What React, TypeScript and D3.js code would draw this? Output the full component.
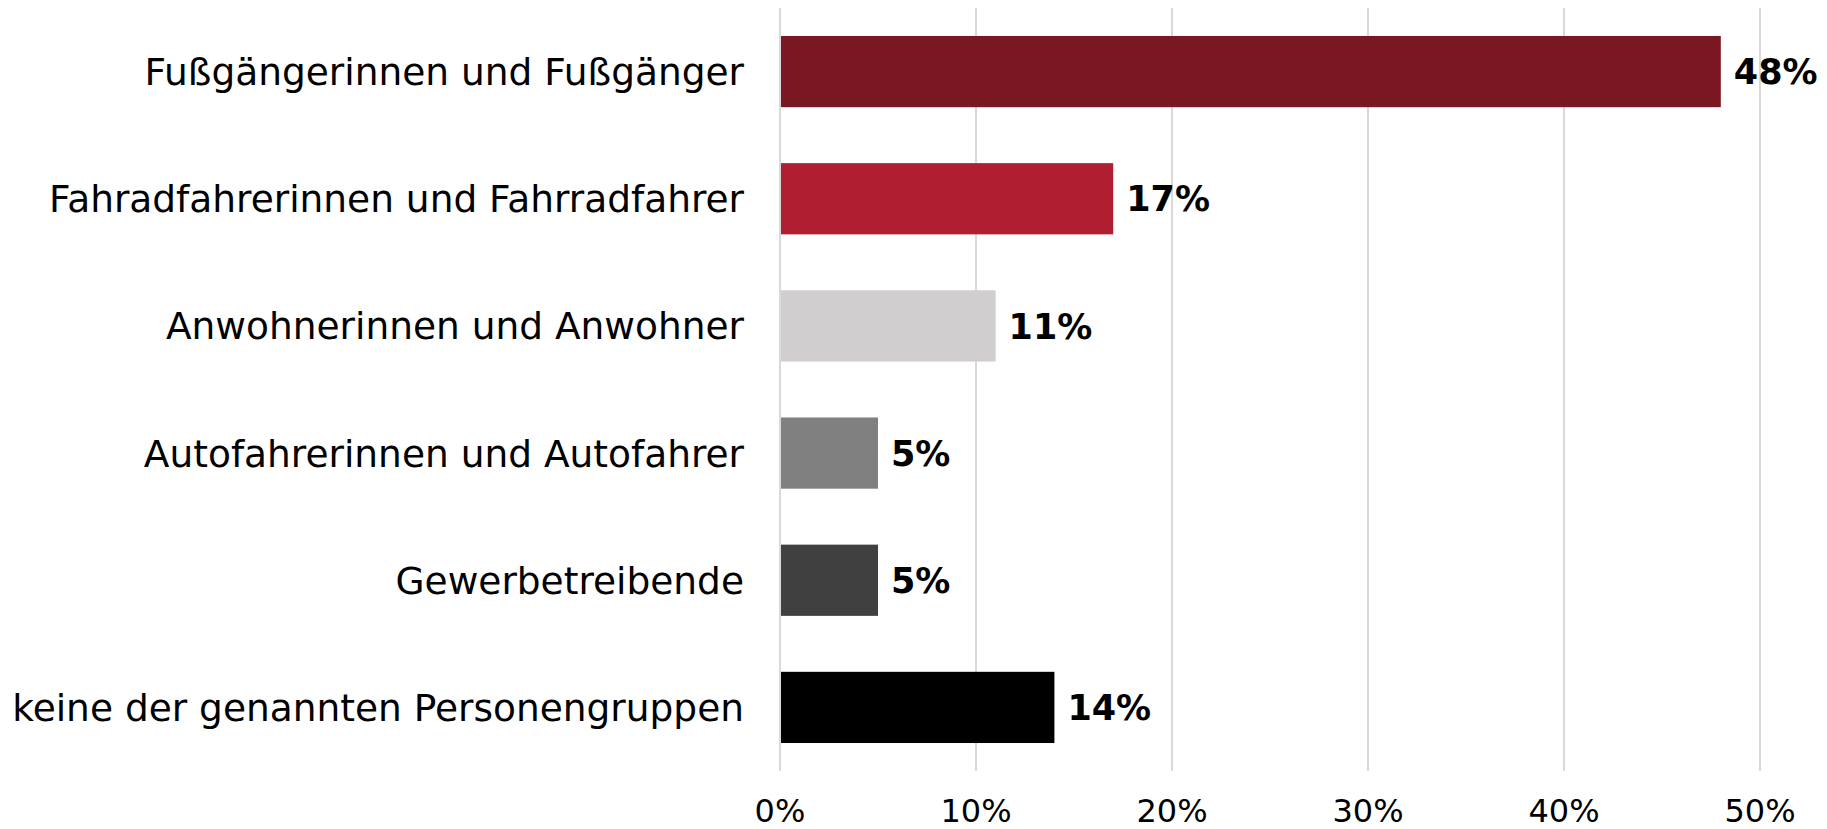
import React, { useRef, useEffect } from 'react';
import * as d3 from 'd3';

const categories = [
  'Fußgängerinnen und Fußgänger',
  'Fahradfahrerinnen und Fahrradfahrer',
  'Anwohnerinnen und Anwohner',
  'Autofahrerinnen und Autofahrer',
  'Gewerbetreibende',
  'keine der genannten Personengruppen',
];
const values = [48, 17, 11, 5, 5, 14];
const barColors = ['#7b1723', '#b01f31', '#d0cecf', '#808080', '#404040', '#000000'];
const ticks = [0, 10, 20, 30, 40, 50];

const App = () => {
  const ref = useRef<HTMLDivElement>(null);

  useEffect(() => {
    if (!ref.current) return;
    d3.select(ref.current).selectAll('*').remove();

    const width = 1827;
    const height = 829;
    const left = 780;
    const right = 1760;
    const top = 8;
    const bottom = 771;

    const svg = d3.select(ref.current)
      .append('svg')
        .attr('width', width)
        .attr('height', height)
        .style('display', 'block')
        .style('font-family', '"DejaVu Sans", Verdana, sans-serif');

    const x = d3.scaleLinear().domain([0, 50]).range([left, right]);
    const y = d3.scaleBand<string>()
      .domain(categories)
      .range([top, bottom])
      .paddingInner(0.44)
      .paddingOuter(0.22);

    // grid
    svg.selectAll('line.grid')
      .data(ticks)
      .join('line')
        .attr('class', 'grid')
        .attr('x1', d => x(d))
        .attr('x2', d => x(d))
        .attr('y1', top)
        .attr('y2', bottom)
        .attr('stroke', '#d9d9d9')
        .attr('stroke-width', 2);

    svg.selectAll('text.tick')
      .data(ticks)
      .join('text')
        .attr('class', 'tick')
        .attr('x', d => x(d))
        .attr('y', 822)
        .attr('text-anchor', 'middle')
        .attr('font-size', 32)
        .attr('fill', '#000')
        .text(d => `${d}%`);

    const rows = categories.map((c, i) => ({ c, v: values[i], color: barColors[i] }));

    svg.selectAll('rect.bar')
      .data(rows)
      .join('rect')
        .attr('class', 'bar')
        .attr('x', x(0) + 1)
        .attr('y', d => y(d.c)!)
        .attr('width', d => x(d.v) - x(0) - 1)
        .attr('height', y.bandwidth())
        .attr('fill', d => d.color);

    svg.selectAll('text.val')
      .data(rows)
      .join('text')
        .attr('class', 'val')
        .attr('x', d => x(d.v) + 13)
        .attr('y', d => y(d.c)! + y.bandwidth() / 2)
        .attr('dy', '0.36em')
        .attr('font-size', 35)
        .attr('font-weight', 'bold')
        .attr('fill', '#000')
        .text(d => `${d.v}%`);

    svg.selectAll('text.cat')
      .data(rows)
      .join('text')
        .attr('class', 'cat')
        .attr('x', 744)
        .attr('y', d => y(d.c)! + y.bandwidth() / 2)
        .attr('dy', '0.36em')
        .attr('text-anchor', 'end')
        .attr('font-size', 37.5)
        .attr('fill', '#000')
        .text(d => d.c);
  }, []);

  return (
    <>
      <style>{'body{margin:0}'}</style>
      <div ref={ref} />
    </>
  );
};

export default App;
